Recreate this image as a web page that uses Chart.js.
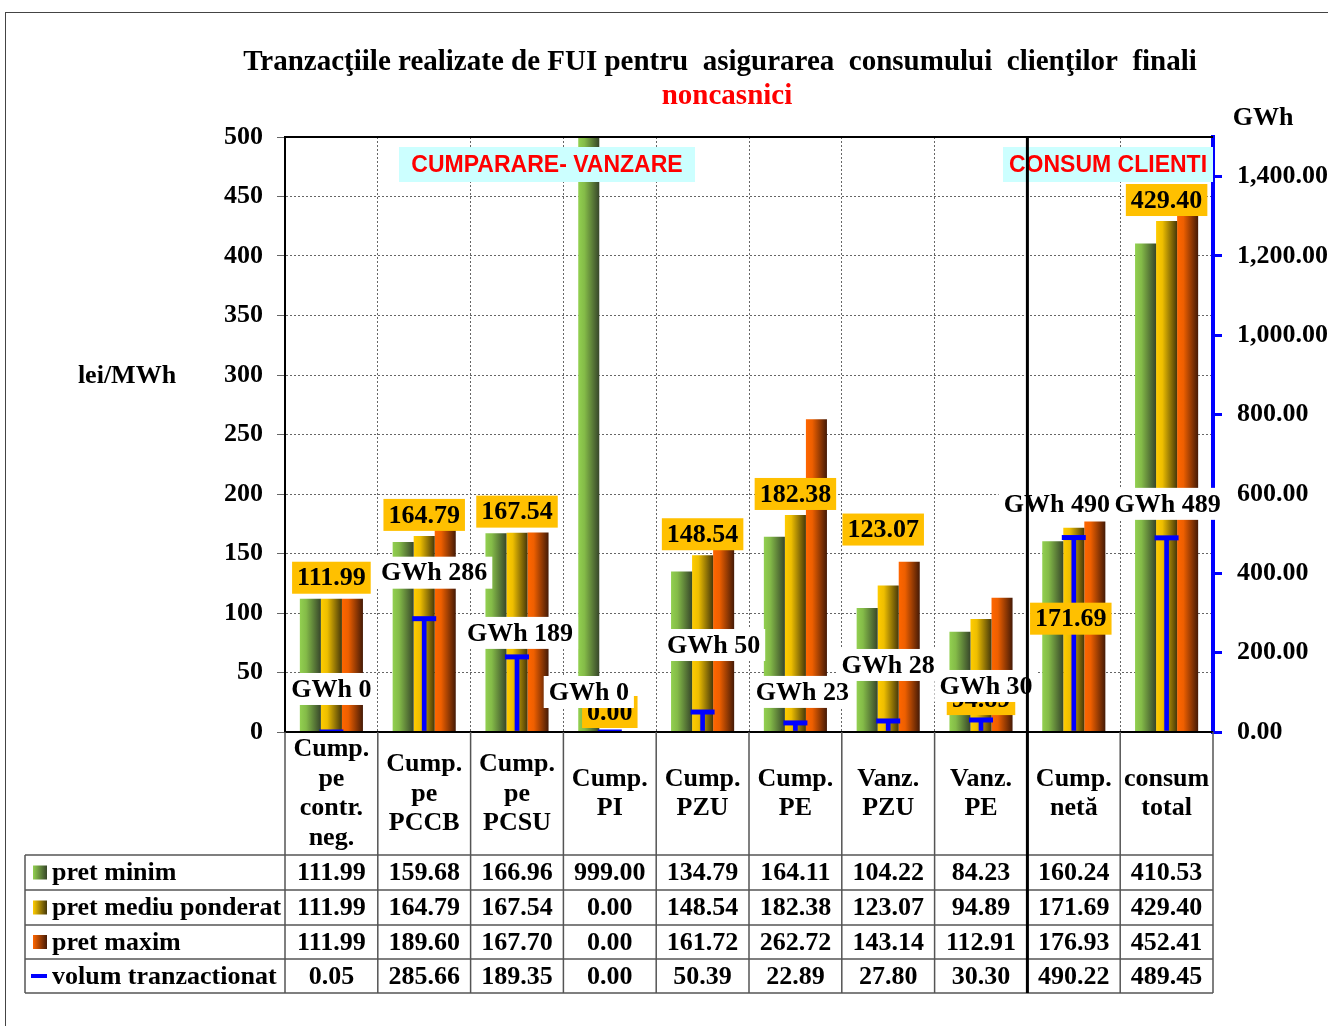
<!DOCTYPE html>
<html>
<head>
<meta charset="utf-8">
<script src="https://cdn.jsdelivr.net/npm/chart.js@4.4.0/dist/chart.umd.min.js"></script>
<style>
  html, body { margin: 0; padding: 0; background: #fff; }
</style>
</head>
<body>
<canvas id="myChart" width="1328" height="1026"></canvas>
<script>
"use strict";
const ctx = document.getElementById('myChart');

const categories = [
  ['Cump.', 'pe', 'contr.', 'neg.'], ['Cump.', 'pe', 'PCCB'], ['Cump.', 'pe', 'PCSU'], ['Cump.', 'PI'],
  ['Cump.', 'PZU'], ['Cump.', 'PE'], ['Vanz.', 'PZU'], ['Vanz.', 'PE'], ['Cump.', 'netă'], ['consum', 'total']
];
const seriesNames = ['pret minim', 'pret mediu ponderat', 'pret maxim', 'volum tranzactionat'];
const pretMinim = [111.99, 159.68, 166.96, 999.00, 134.79, 164.11, 104.22, 84.23, 160.24, 410.53];
const pretMediu = [111.99, 164.79, 167.54, 0.00, 148.54, 182.38, 123.07, 94.89, 171.69, 429.40];
const pretMaxim = [111.99, 189.60, 167.70, 0.00, 161.72, 262.72, 143.14, 112.91, 176.93, 452.41];
const volum = [0.05, 285.66, 189.35, 0.00, 50.39, 22.89, 27.80, 30.30, 490.22, 489.45];
const leftTicks = [0, 50, 100, 150, 200, 250, 300, 350, 400, 450, 500];
const rightTicks = [0, 200, 400, 600, 800, 1000, 1200, 1400];
const rightMax = 1500;

// label nudges (px), the original has them moved by hand
const priceDx = [0, 0, 0, 0, 0, 0, -5, 0, -3, 0];
const priceDy = [-21, -21, -21, -20, -21, -21, -56, 80, 91, -21];
const gwhDx = [0, 10, 3, -21, 11, 7, 0, 5, -17, 1];
const gwhDy = [-43, -46, -24, -40, -67, -31, -56, -34, -33, -34];

const catPct = 0.68;
const serif = '"Liberation Serif", "Times New Roman", serif';
const greenCols = ['#92d050', '#84bb48', '#37462a'];
const goldCols = ['#ffcc00', '#eebe00', '#45380a'];
const orangeCols = ['#ff6600', '#ee5f00', '#451a06'];

function barGradient(cols, slot) {
  return function (context) {
    const chart = context.chart;
    const x = chart.scales.x;
    if (!chart.chartArea || !x || context.dataIndex === undefined) return cols[1];
    const w = x.getPixelForValue(1) - x.getPixelForValue(0);
    const bw = w * catPct / 3;
    const cx = x.getPixelForValue(context.dataIndex) + (slot - 1) * bw;
    const g = chart.ctx.createLinearGradient(cx - bw / 2, 0, cx + bw / 2, 0);
    g.addColorStop(0, cols[0]);
    g.addColorStop(0.3, cols[1]);
    g.addColorStop(1, cols[2]);
    return g;
  };
}

function boxText(c, text, x, y, fill) {
  const tw = c.measureText(text).width;
  c.fillStyle = fill;
  c.fillRect(x - tw / 2 - 5, y - 16, tw + 10, 32);
  c.fillStyle = '#000';
  c.fillText(text, x, y + 1);
}

const labelPlugin = {
  id: 'labels',
  afterDatasetsDraw(chart) {
    const c = chart.ctx;
    const x = chart.scales.x, y = chart.scales.y, y2 = chart.scales.y2;
    const a = chart.chartArea;
    c.save();
    // axis lines on top
    c.strokeStyle = '#000';
    c.lineWidth = 2;
    c.beginPath();
    c.moveTo(a.left, a.top); c.lineTo(a.right, a.top);
    c.moveTo(a.left, a.bottom); c.lineTo(a.right, a.bottom);
    c.stroke();

    c.font = 'bold 26px ' + serif;
    c.textAlign = 'center';
    c.textBaseline = 'middle';
    pretMediu.forEach((v, i) => {
      boxText(c, v.toFixed(2), x.getPixelForValue(i) + priceDx[i], y.getPixelForValue(v) + priceDy[i], '#ffc000');
    });
    volum.forEach((v, i) => {
      boxText(c, 'GWh ' + Math.round(v), x.getPixelForValue(i) + gwhDx[i], y2.getPixelForValue(v) + gwhDy[i], '#fff');
    });

    // section boxes
    c.font = 'bold 23px "Liberation Sans", Arial, sans-serif';
    c.fillStyle = '#ccffff';
    c.fillRect(399, 147, 296, 35);
    c.fillRect(1003, 147, a.right - 1003, 35);
    c.fillStyle = '#ff0000';
    c.fillText('CUMPARARE- VANZARE', 547, 166);
    c.fillText('CONSUM CLIENTI', 1108, 166);
    c.restore();
  },
  afterDraw(chart) {
    const c = chart.ctx;
    const x = chart.scales.x;
    const a = chart.chartArea;
    const w = x.getPixelForValue(1) - x.getPixelForValue(0);
    const rows = [855, 890, 925, 959, 993];
    c.save();
    // outer frame
    c.strokeStyle = '#444';
    c.lineWidth = 1;
    c.strokeRect(5.5, 12.5, 1340, 1040);

    // titles
    c.textAlign = 'center';
    c.textBaseline = 'middle';
    c.font = 'bold 29px ' + serif;
    c.fillStyle = '#000';
    c.fillText('Tranzacţiile realizate de FUI pentru  asigurarea  consumului  clienţilor  finali', 720, 63);
    c.fillStyle = '#ff0000';
    c.fillText('noncasnici', 727, 97);
    c.fillStyle = '#000';
    c.font = 'bold 26px ' + serif;
    c.fillText('lei/MWh', 127, 376);
    c.fillText('GWh', 1263, 118);

    // table grid
    c.strokeStyle = '#555';
    c.lineWidth = 1.5;
    c.beginPath();
    for (let i = 0; i <= categories.length; i++) {
      const bx = a.left + i * w;
      c.moveTo(bx, a.bottom); c.lineTo(bx, rows[rows.length - 1]);
    }
    c.moveTo(25, rows[0]); c.lineTo(25, rows[rows.length - 1]);
    rows.forEach(ry => { c.moveTo(25, ry); c.lineTo(a.right, ry); });
    c.stroke();

    // thick separator
    c.strokeStyle = '#000';
    c.lineWidth = 3;
    c.beginPath();
    c.moveTo(a.left + 8 * w, a.top); c.lineTo(a.left + 8 * w, rows[rows.length - 1]);
    c.stroke();

    // category names
    c.font = 'bold 26px ' + serif;
    c.fillStyle = '#000';
    categories.forEach((lines, i) => {
      const cx = x.getPixelForValue(i);
      const y0 = 794 - (lines.length - 1) * 29.5 / 2;
      lines.forEach((t, k) => c.fillText(t, cx, y0 + k * 29.5));
    });

    // rows
    const seriesData = [pretMinim, pretMediu, pretMaxim, volum];
    const swatches = [greenCols, goldCols, orangeCols];
    seriesData.forEach((arr, r) => {
      const cy = (rows[r] + rows[r + 1]) / 2;
      if (r < 3) {
        const g = c.createLinearGradient(33, 0, 47, 0);
        g.addColorStop(0, swatches[r][0]);
        g.addColorStop(1, swatches[r][2]);
        c.fillStyle = g;
        c.fillRect(33, cy - 7, 14, 14);
      } else {
        c.fillStyle = '#0000ff';
        c.fillRect(31, cy - 2, 16, 4);
      }
      c.fillStyle = '#000';
      c.textAlign = 'left';
      c.fillText(seriesNames[r], 52, cy + 1);
      c.textAlign = 'center';
      arr.forEach((v, i) => c.fillText(v.toFixed(2), x.getPixelForValue(i), cy + 1));
    });
    c.restore();
  }
};

const myChart = new Chart(ctx, {
  type: 'bar',
  plugins: [labelPlugin],
  data: {
    labels: categories.map(l => l.join(' ')),
    datasets: [
      { label: seriesNames[0], data: pretMinim, backgroundColor: barGradient(greenCols, 0), order: 3,
        categoryPercentage: catPct, barPercentage: 1, yAxisID: 'y' },
      { label: seriesNames[1], data: pretMediu, backgroundColor: barGradient(goldCols, 1), order: 3,
        categoryPercentage: catPct, barPercentage: 1, yAxisID: 'y' },
      { label: seriesNames[2], data: pretMaxim, backgroundColor: barGradient(orangeCols, 2), order: 3,
        categoryPercentage: catPct, barPercentage: 1, yAxisID: 'y' },
      { label: seriesNames[3], data: volum, backgroundColor: '#0000ff', barThickness: 4, order: 2,
        grouped: false, yAxisID: 'y2' },
      { type: 'line', label: seriesNames[3] + ' cap', data: volum, showLine: false, order: 1,
        pointStyle: 'line', pointRadius: 12, pointBorderWidth: 5, borderColor: '#0000ff',
        yAxisID: 'y2' }
    ]
  },
  options: {
    responsive: false,
    animation: false,
    layout: { padding: { top: 137, left: 0, right: 0, bottom: 0 } },
    plugins: { legend: { display: false }, tooltip: { enabled: false }, title: { display: false } },
    scales: {
      x: {
        offset: true,
        ticks: { display: false },
        grid: { offset: true, color: '#666', drawTicks: false },
        border: { display: false, dash: [2, 2] },
        afterFit(scale) { scale.height = 294; }
      },
      y: {
        position: 'left',
        min: leftTicks[0],
        max: leftTicks[leftTicks.length - 1],
        afterBuildTicks(scale) { scale.ticks = leftTicks.map(v => ({ value: v })); },
        ticks: { color: '#000', padding: 14, font: { family: serif, size: 26, weight: 'bold' } },
        grid: { color: '#666', tickLength: 8 },
        border: { color: '#000', width: 2, dash: [2, 2] },
        afterFit(scale) { scale.width = 285; }
      },
      y2: {
        position: 'right',
        min: 0,
        max: rightMax,
        afterBuildTicks(scale) { scale.ticks = rightTicks.map(v => ({ value: v })); },
        ticks: {
          color: '#000', padding: 15, font: { family: serif, size: 26, weight: 'bold' },
          callback: v => v.toLocaleString('en-US', { minimumFractionDigits: 2, maximumFractionDigits: 2 })
        },
        grid: { drawOnChartArea: false, color: '#0000ff', lineWidth: 3, tickLength: 9 },
        border: { color: '#0000ff', width: 4 },
        afterFit(scale) { scale.width = 115; }
      }
    }
  }
});
</script>
</body>
</html>
